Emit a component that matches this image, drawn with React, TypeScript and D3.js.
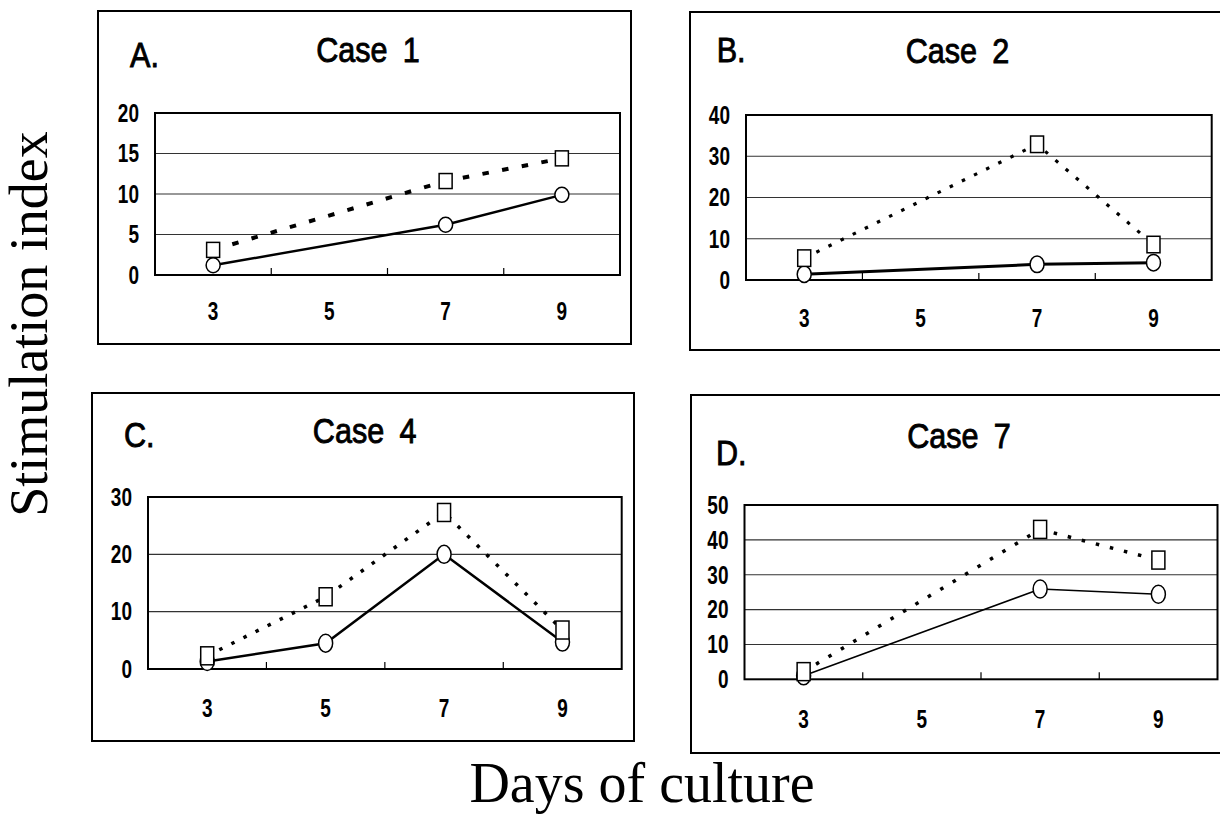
import React from "react";
import * as d3 from "d3";

// ---- data ----
const days = ["3", "5", "7", "9"];

const case1Circle = [1.2, null, 6.2, 9.9];
const case1Square = [3.1, null, 11.6, 14.4];
const case2Circle = [1.4, null, 3.8, 4.2];
const case2Square = [5.3, null, 32.9, 8.6];
const case4Circle = [1.3, 4.5, 20.0, 4.7];
const case4Square = [2.3, 12.6, 27.3, 6.8];
const case7Circle = [1.0, null, 25.9, 24.4];
const case7Square = [2.2, null, 43.0, 34.2];

const panelLetters = ["A.", "B.", "C.", "D."];
const panelTitles = ["Case 1", "Case 2", "Case 4", "Case 7"];
const yMaxes = [20, 40, 30, 50];
const yTickSteps = [5, 10, 10, 10];

const yAxisTitle = "Stimulation index";
const xAxisTitle = "Days of culture";

// ---- layout (positions & styles only) ----
type Layout = {
  box: [number, number, number, number];
  plot: [number, number, number, number];
  letter: [number, number];
  title: [number, number];
  xLabBase: number;
  solidW: number;
  dotW: number;
  dash: string;
  mh: number;
};

const layouts: Layout[] = [
  { box: [98, 11, 631, 344], plot: [155, 113, 620, 275], letter: [130, 66.7], title: [368, 61.7], xLabBase: 320, solidW: 2.4, dotW: 4, dash: "6.5 13.5", mh: 15 },
  { box: [690, 12, 1226, 350], plot: [746, 115, 1211.7, 280], letter: [716.7, 61.7], title: [957.5, 62.5], xLabBase: 326.7, solidW: 3, dotW: 3.2, dash: "3.5 10", mh: 16.5 },
  { box: [92, 393, 634, 741], plot: [148, 497, 621.7, 669], letter: [124, 446.7], title: [364.7, 443.3], xLabBase: 716.7, solidW: 2.5, dotW: 3.5, dash: "3.5 10", mh: 18 },
  { box: [691, 395, 1226, 753], plot: [744.5, 505, 1217.5, 679.3], letter: [716, 465], title: [959, 448.3], xLabBase: 728.3, solidW: 1.6, dotW: 3.5, dash: "3.5 11", mh: 18 },
];

const circleSeries = [case1Circle, case2Circle, case4Circle, case7Circle];
const squareSeries = [case1Square, case2Square, case4Square, case7Square];

const SANS = "'Liberation Sans', Arial, Helvetica, sans-serif";
const SERIF = "'Liberation Serif', 'Times New Roman', Times, serif";

function Panel({ i }: { i: number }) {
  const L = layouts[i];
  const [bx0, by0, bx1, by1] = L.box;
  const [px0, py0, px1, py1] = L.plot;
  const x = d3.scaleBand<string>().domain(days).range([px0, px1]).padding(0);
  const y = d3.scaleLinear().domain([0, yMaxes[i]]).range([py1, py0]);
  const ticks = d3.range(0, yMaxes[i] + 0.001, yTickSteps[i]);
  const cx = (d: string) => (x(d) as number) + x.bandwidth() / 2;

  const pts = (vals: (number | null)[]) =>
    days
      .map((d, k) => ({ d, v: vals[k] }))
      .filter((p) => p.v !== null) as { d: string; v: number }[];

  const line = d3
    .line<{ d: string; v: number }>()
    .x((p) => cx(p.d))
    .y((p) => y(p.v));

  const circ = pts(circleSeries[i]);
  const sq = pts(squareSeries[i]);
  const mw = 14;
  const mh = L.mh;

  return (
    <g>
      <rect x={bx0} y={by0} width={bx1 - bx0} height={by1 - by0} fill="#fff" stroke="#000" strokeWidth={2} />
      {/* titles */}
      <text
        transform={`translate(${L.letter[0]},${L.letter[1]}) scale(0.85,1)`}
        fontFamily={SANS}
        fontSize={36}
        fill="#000"
        stroke="#000"
        strokeWidth={0.9}
      >
        {panelLetters[i]}
      </text>
      <text
        transform={`translate(${L.title[0]},${L.title[1]}) scale(0.85,1)`}
        fontFamily={SANS}
        fontSize={36}
        textAnchor="middle"
        fill="#000"
        stroke="#000"
        strokeWidth={0.9}
        wordSpacing={8}
      >
        {panelTitles[i]}
      </text>
      {/* gridlines */}
      {ticks
        .filter((t) => t > 0 && t < yMaxes[i])
        .map((t) => (
          <line key={t} x1={px0} x2={px1} y1={y(t)} y2={y(t)} stroke="#333" strokeWidth={1.1} />
        ))}
      {/* x minor ticks between categories */}
      {days.slice(1).map((d) => (
        <line key={d} x1={x(d)} x2={x(d)} y1={py1} y2={py1 - 7} stroke="#000" strokeWidth={1.2} />
      ))}
      {/* plot frame */}
      <rect x={px0} y={py0} width={px1 - px0} height={py1 - py0} fill="none" stroke="#000" strokeWidth={2} />
      {/* y tick labels */}
      {ticks.map((t) => (
        <text
          key={t}
          transform={`translate(${px0 - 16},${y(t) + 8.8}) scale(0.76,1)`}
          fontFamily={SANS}
          fontSize={25}
          fontWeight="bold"
          textAnchor="end"
          fill="#000"
        >
          {t}
        </text>
      ))}
      {/* x tick labels */}
      {days.map((d) => (
        <text
          key={d}
          transform={`translate(${cx(d)},${L.xLabBase}) scale(0.76,1)`}
          fontFamily={SANS}
          fontSize={25}
          fontWeight="bold"
          textAnchor="middle"
          fill="#000"
        >
          {d}
        </text>
      ))}
      {/* lines */}
      <path d={line(circ) || ""} fill="none" stroke="#000" strokeWidth={L.solidW} />
      <path d={line(sq) || ""} fill="none" stroke="#000" strokeWidth={L.dotW} strokeDasharray={L.dash} />
      {/* markers */}
      {circ.map((p) => (
        <ellipse key={"c" + p.d} cx={cx(p.d)} cy={y(p.v)} rx={mw / 2} ry={mh / 2} fill="#fff" stroke="#000" strokeWidth={1.5} />
      ))}
      {sq.map((p) => (
        <rect key={"s" + p.d} x={cx(p.d) - mw / 2 + 0.5} y={y(p.v) - mh / 2} width={mw - 1} height={mh} fill="#fff" stroke="#000" strokeWidth={1.5} />
      ))}
    </g>
  );
}

export default function App() {
  return (
    <svg
      width={1220}
      height={820}
      style={{ position: "absolute", left: 0, top: 0, background: "#fff", display: "block" }}
    >
      <rect x={0} y={0} width={1220} height={820} fill="#fff" />
      {layouts.map((_, i) => (
        <Panel key={i} i={i} />
      ))}
      <text
        transform="translate(47,324) rotate(-90)"
        fontFamily={SERIF}
        fontSize={54}
        textAnchor="middle"
        fill="#000"
      >
        {yAxisTitle}
      </text>
      <text x={642} y={802} fontFamily={SERIF} fontSize={56} textAnchor="middle" fill="#000">
        {xAxisTitle}
      </text>
    </svg>
  );
}
